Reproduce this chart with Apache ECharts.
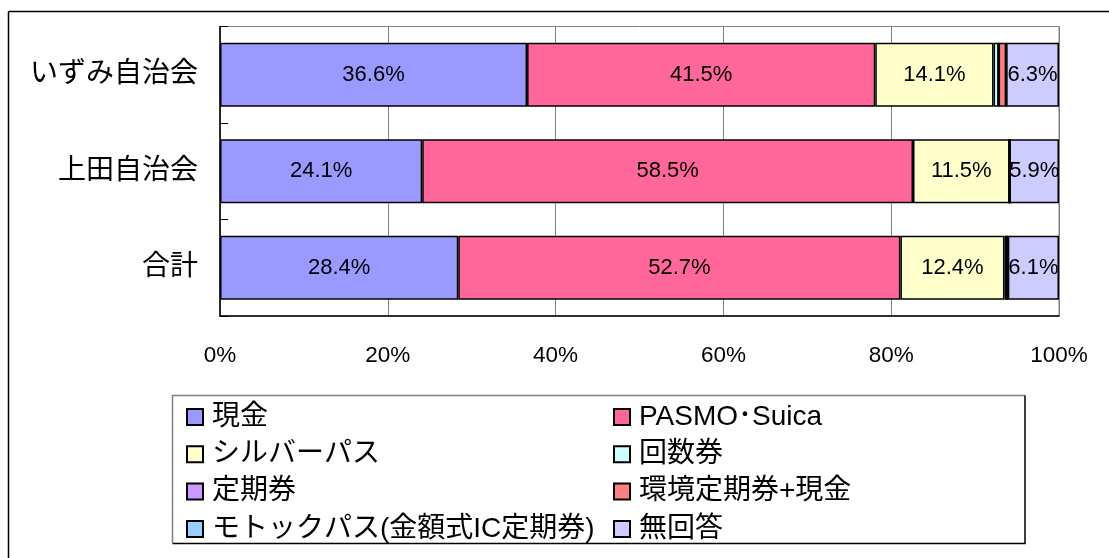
<!DOCTYPE html>
<html>
<head>
<meta charset="utf-8">
<script src="https://cdn.jsdelivr.net/npm/echarts@6/dist/echarts.min.js"></script>
<style>
html,body{margin:0;padding:0;background:#fff;}
#c{width:1109px;height:558px;}
</style>
</head>
<body>
<div id="c"></div>
<script>
var categories = ['いずみ自治会', '上田自治会', '合計'];
var seriesNames = ['現金', 'PASMO･Suica', 'シルバーパス', '回数券', '定期券', '環境定期券+現金', 'モトックパス(金額式IC定期券)', '無回答'];
var genkin  = [36.6, 24.1, 28.4];
var pasmo   = [41.5, 58.5, 52.7];
var silver  = [14.1, 11.5, 12.4];
var kaisuu  = [0.6, 0, 0.2];
var teiki   = [0, 0, 0];
var kankyo  = [0.9, 0, 0.2];
var motok   = [0, 0, 0];
var mukaito = [6.3, 5.9, 6.1];
var xTicks = [0, 20, 40, 60, 80, 100];

var colors = ['#9999FF', '#FF6699', '#FFFFCC', '#CCFFFF', '#CC99FF', '#FF8080', '#99CCFF', '#CCCCFF'];
var values = [genkin, pasmo, silver, kaisuu, teiki, kankyo, motok, mukaito];
var FONT = '"Liberation Sans", "Noto Sans CJK JP", sans-serif';
var NUMFONT = '"Liberation Sans", sans-serif';

var series = seriesNames.map(function (name, i) {
  return {
    name: name,
    type: 'bar',
    stack: 'total',
    barWidth: 64,
    data: values[i],
    itemStyle: { color: colors[i], borderColor: '#000', borderWidth: 1.5 },
    label: {
      show: true,
      position: 'inside',
      color: '#000',
      fontSize: 22,
      fontFamily: NUMFONT,
      formatter: function (p) { return p.value >= 3 ? p.value.toFixed(1) + '%' : ''; }
    },
    emphasis: { disabled: true },
    animation: false
  };
});

var legendText = { fontSize: 28, fontFamily: FONT, color: '#000', lineHeight: 28, padding: [0, 0, 0, 4] };

var chart = echarts.init(document.getElementById('c'), null, { renderer: 'canvas' });
chart.setOption({
  animation: false,
  grid: { left: 220, right: 50, top: 26.5, bottom: 242, show: true, borderColor: '#808080', borderWidth: 1, backgroundColor: 'transparent' },
  xAxis: {
    type: 'value', min: xTicks[0], max: xTicks[xTicks.length - 1], interval: 20,
    axisLine: { show: true, lineStyle: { color: '#000', width: 1.5 } },
    axisTick: { show: false },
    splitLine: { show: true, lineStyle: { color: '#808080', width: 1 } },
    axisLabel: { formatter: '{value}%', color: '#000', fontSize: 22.5, fontFamily: NUMFONT, margin: 28 }
  },
  yAxis: {
    type: 'category', data: categories, inverse: true,
    axisLine: { show: true, lineStyle: { color: '#000', width: 1.5 } },
    axisTick: { show: true, inside: true, length: 8, lineStyle: { color: '#000' } },
    axisLabel: { color: '#000', fontSize: 28, fontFamily: FONT, margin: 22 }
  },
  legend: [
    {
      data: [seriesNames[0], seriesNames[2], seriesNames[4], seriesNames[6]],
      orient: 'vertical', left: 186, top: 403, itemWidth: 16, itemHeight: 16, itemGap: 9.3,
      icon: 'rect', selectedMode: false, textStyle: legendText, padding: 0
    },
    {
      data: [seriesNames[1], seriesNames[3], seriesNames[5], seriesNames[7]],
      orient: 'vertical', left: 613, top: 403, itemWidth: 16, itemHeight: 16, itemGap: 9.3,
      icon: 'rect', selectedMode: false, textStyle: legendText, padding: 0
    }
  ],
  graphic: [
    { type: 'line', shape: { x1: 8.5, y1: 11.5, x2: 1109, y2: 11.5 }, style: { stroke: '#000', lineWidth: 1.5 } },
    { type: 'line', shape: { x1: 8.5, y1: 11.5, x2: 8.5, y2: 558 }, style: { stroke: '#000', lineWidth: 1.5 } },
    { type: 'polyline', shape: { points: [[172.5, 543], [172.5, 395.5], [1025, 395.5]] }, style: { stroke: '#808080', lineWidth: 1.5, fill: null } },
    { type: 'polyline', shape: { points: [[172.5, 543.5], [1025, 543.5], [1025, 395.5]] }, style: { stroke: '#000', lineWidth: 1.5, fill: null } }
  ],
  series: series
});
</script>
</body>
</html>
